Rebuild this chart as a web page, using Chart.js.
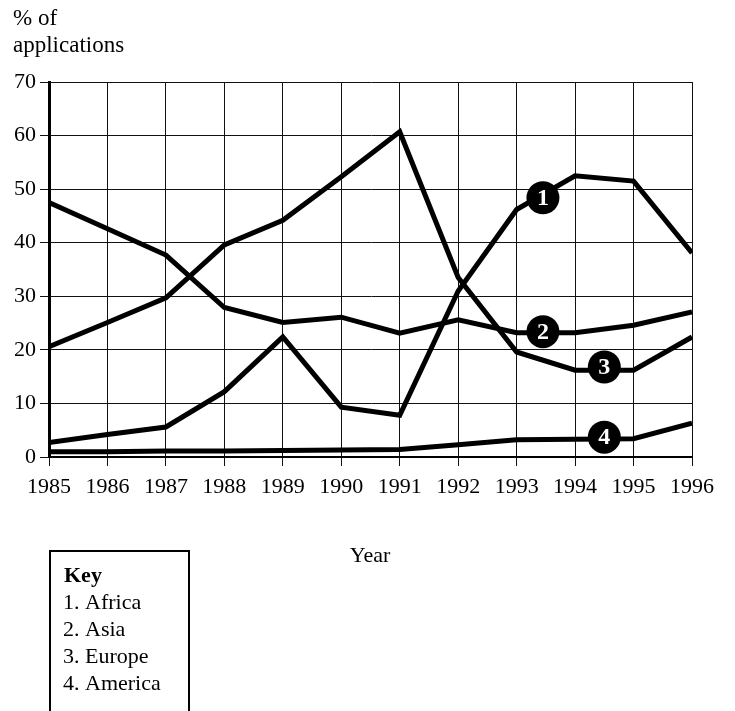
<!DOCTYPE html>
<html>
<head>
<meta charset="utf-8">
<script src="https://cdn.jsdelivr.net/npm/chart.js@4/dist/chart.umd.min.js"></script>
<style>
html,body{margin:0;padding:0;background:#fff;}
#wrap{position:relative;width:735px;height:711px;}
</style>
</head>
<body>
<div id="wrap"><canvas id="c" width="735" height="711"></canvas></div>
<script>
const years = [1985,1986,1987,1988,1989,1990,1991,1992,1993,1994,1995,1996];
const africa  = [2.7, 4.2, 5.6, 12.2, 22.4, 9.3, 7.8, 31.0, 46.2, 52.5, 51.5, 38.1];
const asia    = [47.5, 42.6, 37.7, 27.9, 25.1, 26.1, 23.1, 25.6, 23.2, 23.2, 24.6, 27.1];
const europe  = [20.6, 25.1, 29.7, 39.6, 44.2, 52.3, 60.7, 33.5, 19.6, 16.2, 16.2, 22.4];
const america = [1.0, 1.0, 1.1, 1.1, 1.2, 1.3, 1.4, 2.3, 3.2, 3.3, 3.4, 6.3];
const seriesNames = ["Africa","Asia","Europe","America"];
const markerNums = ["1","2","3","4"];
const markerX = [1993.45, 1993.45, 1994.5, 1994.5];
const markerY = [48.4, 23.4, 16.8, 3.7];
const yTicks = [0,10,20,30,40,50,60,70];
const yTitle = ["% of","applications"];
const xTitle = "Year";
const keyTitle = "Key";

const serif = "'Liberation Serif','Times New Roman',serif";

function mk(data){
  return {data: years.map((y,i)=>({x:y,y:data[i]})), borderColor:'#000', borderWidth:5,
    pointRadius:0, tension:0, fill:false, borderJoinStyle:'miter', borderCapStyle:'butt'};
}

const extras = {
  id:'extras',
  afterDatasetsDraw(chart){
    const ctx = chart.ctx, xs = chart.scales.x, ys = chart.scales.y;
    ctx.save();
    for(let i=0;i<markerNums.length;i++){
      const px = xs.getPixelForValue(markerX[i]), py = ys.getPixelForValue(markerY[i]);
      ctx.beginPath(); ctx.arc(px,py,16.5,0,Math.PI*2); ctx.fillStyle='#000'; ctx.fill();
      ctx.fillStyle='#fff'; ctx.font='bold 24px '+serif; ctx.textAlign='center'; ctx.textBaseline='middle';
      ctx.fillText(markerNums[i], px, py+1);
    }
    ctx.restore();
  },
  afterDraw(chart){
    const ctx = chart.ctx;
    ctx.save();
    ctx.fillStyle='#000';
    ctx.font='23px '+serif; ctx.textAlign='left'; ctx.textBaseline='alphabetic';
    ctx.fillText(yTitle[0], 13, 25);
    ctx.fillText(yTitle[1], 13, 52);
    ctx.textAlign='center';
    ctx.font='22px '+serif;
    ctx.fillText(xTitle, 370, 562);
    // key box
    ctx.lineWidth=2; ctx.strokeStyle='#000';
    ctx.strokeRect(50, 551, 139, 200);
    ctx.textAlign='left';
    ctx.font='bold 22px '+serif;
    ctx.fillText(keyTitle, 64, 582);
    ctx.font='22px '+serif;
    seriesNames.forEach((n,i)=>ctx.fillText((i+1)+'. '+n, 63, 609+27*i));
    ctx.restore();
  }
};

new Chart(document.getElementById('c'), {
  type:'line',
  data:{datasets:[mk(africa),mk(asia),mk(europe),mk(america)]},
  options:{
    responsive:false, animation:false,
    layout:{padding:{left:0, top:82, right:43, bottom:214}},
    plugins:{legend:{display:false}, tooltip:{enabled:false}},
    scales:{
      x:{type:'linear', min:1985, max:1996,
        afterFit(s){ s.height=40; },
        afterBuildTicks(s){ s.ticks = years.map(v=>({value:v})); },
        ticks:{color:'#000', font:{family:serif, size:22}, padding:8, maxRotation:0, autoSkip:false, callback:v=>String(v)},
        grid:{color:'#111', lineWidth:1, tickLength:9, drawTicks:true},
        border:{color:'#000', width:2}
      },
      y:{min:0, max:70,
        afterFit(s){ s.width=49; },
        afterBuildTicks(s){ s.ticks = yTicks.map(v=>({value:v})); },
        ticks:{color:'#000', font:{family:serif, size:22}, padding:4},
        grid:{color:'#111', lineWidth:1, tickLength:9, drawTicks:true},
        border:{color:'#000', width:3}
      }
    }
  },
  plugins:[extras]
});
</script>
</body>
</html>
